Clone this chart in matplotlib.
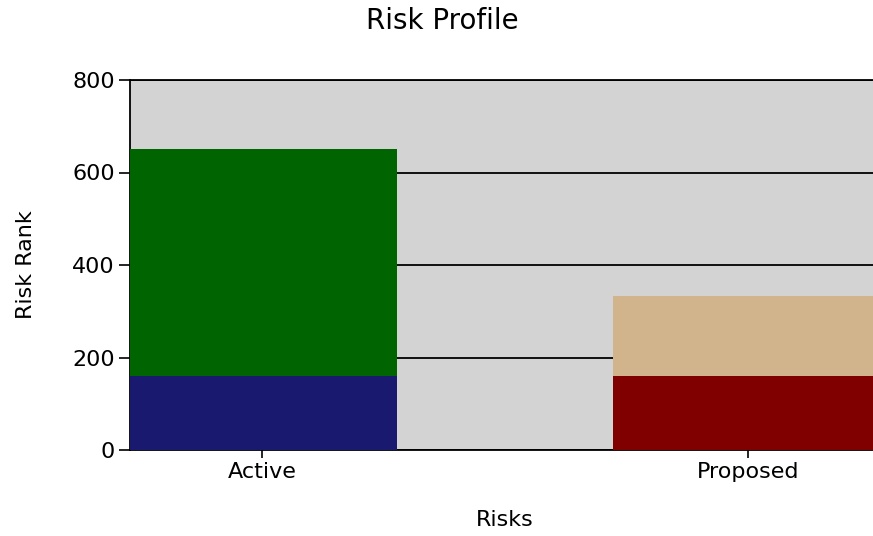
import matplotlib
matplotlib.use("Agg")
import matplotlib.pyplot as plt
import numpy as np

plt.rcParams['font.family'] = ['DejaVu Sans']

categories = ["Active", "Proposed"]
base_values = [160, 160]
top_values = [490, 172]
base_colors = ["#191970", "#800000"]
top_colors = ["#006400", "#D2B48C"]
yticks = [0, 200, 400, 600, 800]

W, H = 873, 536
fig = plt.figure(figsize=(W / 100, H / 100), dpi=100)
fig.patch.set_facecolor("white")

left, right, top, bottom = 130, 880, 80, 450
ax = fig.add_axes([left / W, 1 - bottom / H, (right - left) / W, (bottom - top) / H])
ax.set_facecolor("#D3D3D3")

x = np.arange(len(categories))
width = 0.556
ax.bar(x, base_values, width=width, color=base_colors, zorder=3)
ax.bar(x, top_values, width=width, bottom=base_values, color=top_colors, zorder=3)

ax.set_xlim(-0.271, 1.271)
ax.set_ylim(0, 800)
ax.set_yticks(yticks)
ax.set_xticks(x)
ax.set_xticklabels(categories)
ax.yaxis.grid(True, color="black", linewidth=1.3, zorder=1)
ax.set_axisbelow(True)

for s in ["left", "bottom", "top"]:
    ax.spines[s].set_color("black")
    ax.spines[s].set_linewidth(1.3)
ax.spines["right"].set_visible(False)

ax.tick_params(axis="y", length=8, width=1.2, labelsize=16, colors="black", pad=3)
ax.tick_params(axis="x", length=6, width=1.2, labelsize=16, colors="black", pad=3)
ax.set_xlabel("Risks", fontsize=16, labelpad=20)
ax.set_ylabel("Risk Rank", fontsize=16, labelpad=26)
fig.text(442 / W, 1 - 21 / H, "Risk Profile", ha="center", va="center", fontsize=20)

fig.savefig("out.png", dpi=100)
